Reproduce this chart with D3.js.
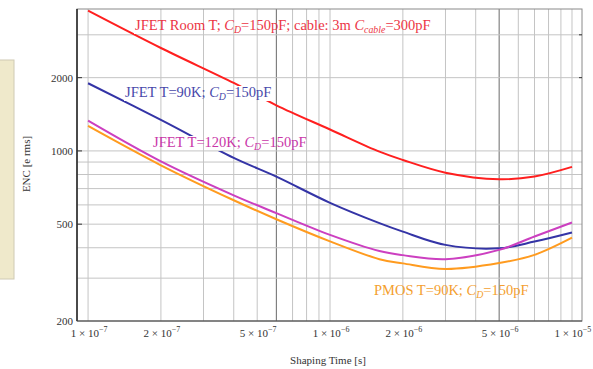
<!DOCTYPE html>
<html>
<head>
<meta charset="utf-8">
<script src="https://cdn.jsdelivr.net/npm/d3@7"></script>
<style>
  body { margin: 0; background: #fff; }
  svg { display: block; }
</style>
</head>
<body>
<div id="chart"></div>
<script>
// values (ENC in e rms vs shaping time in s)
const shapingTimes = [1e-7, 2e-7, 4e-7, 6e-7, 1e-6, 1.6e-6, 2e-6, 3e-6, 5e-6, 7e-6, 1e-5];
const encJfetRoom = [3770, 2648, 1902, 1540, 1225, 993, 918, 814, 765, 785, 860];
const encJfet90 = [1897, 1341, 936, 784, 612, 505, 466, 411, 398, 424, 462];
const encJfet120 = [1332, 906, 657, 555, 452, 388, 373, 359, 392, 445, 508];
const encPmos90 = [1267, 873, 627, 524, 425, 359, 345, 327, 346, 374, 440];

const xTickValues = [1e-7, 2e-7, 5e-7, 1e-6, 2e-6, 5e-6, 1e-5];
const xTickMantissa = ["1", "2", "5", "1", "2", "5", "1"];
const xTickExponent = ["\u22127", "\u22127", "\u22127", "\u22126", "\u22126", "\u22126", "\u22125"];
const yTickValues = [200, 500, 1000, 2000];
const xGridValues = [1e-7, 2e-7, 3e-7, 4e-7, 5e-7, 6e-7, 7e-7, 8e-7, 9e-7,
                     1e-6, 2e-6, 3e-6, 4e-6, 5e-6, 6e-6, 7e-6, 8e-6, 9e-6, 1e-5];
const xDarkGrid = [6e-7, 5e-6];
const yGridValues = [300, 400, 500, 600, 700, 800, 900, 1000, 2000, 3000];

const width = 593, height = 369;
const plotLeft = 77, plotRight = 582, plotTop = 9, plotBottom = 321;

let x = d3.scaleLog().domain([9e-8, 1.1e-5]).range([plotLeft, plotRight]);
let y = d3.scaleLog().domain([200, 3830]).range([plotBottom, plotTop]);

let svg = d3.select("#chart").append("svg")
    .attr("width", width)
    .attr("height", height)
    .style("font-family", "'Liberation Serif', 'DejaVu Serif', serif");

// beige panel on the left edge
svg.append("rect")
    .attr("x", -1).attr("y", 60)
    .attr("width", 15).attr("height", 219)
    .attr("fill", "#efe9cb")
    .attr("stroke", "#cfcab4");

function drawGrid(g) {
    g.selectAll("line.gx")
        .data(xGridValues)
        .join("line")
        .attr("class", "gx")
        .attr("x1", d => x(d)).attr("x2", d => x(d))
        .attr("y1", plotTop).attr("y2", plotBottom)
        .attr("stroke", d => xDarkGrid.includes(d) ? "#6a6a6a" : "#c4c4c4")
        .attr("stroke-width", 1);
    g.selectAll("line.gy")
        .data(yGridValues)
        .join("line")
        .attr("class", "gy")
        .attr("x1", plotLeft).attr("x2", plotRight)
        .attr("y1", d => y(d)).attr("y2", d => y(d))
        .attr("stroke", "#c4c4c4")
        .attr("stroke-width", 1);
}

drawGrid(svg.append("g"));

// curves
let series = [
    { values: encJfetRoom, color: "#ff1f1f" },
    { values: encJfet90, color: "#3434a6" },
    { values: encJfet120, color: "#cc3fc0" },
    { values: encPmos90, color: "#ff9b1f" }
];

let line = d3.line()
    .x(d => x(d[0]))
    .y(d => y(d[1]))
    .curve(d3.curveCatmullRom.alpha(0.5));

svg.append("g")
    .selectAll("path")
    .data(series)
    .join("path")
    .attr("d", s => line(shapingTimes.map((t, i) => [t, s.values[i]])))
    .attr("fill", "none")
    .attr("stroke", s => s.color)
    .attr("stroke-width", 2);

// curve labels, parts: plain / italic / italic subscript
let labels = [
    { x: 135, y: 30, color: "#ec3545", parts: [["JFET Room T; "], ["C", "i"], ["D", "s"], ["=150pF; cable: 3m "], ["C", "i"], ["cable", "s"], ["=300pF"]] },
    { x: 125, y: 97, color: "#4848aa", parts: [["JFET T=90K; "], ["C", "i"], ["D", "s"], ["=150pF"]] },
    { x: 153, y: 147, color: "#c936a8", parts: [["JFET T=120K; "], ["C", "i"], ["D", "s"], ["=150pF"]] },
    { x: 374, y: 295, color: "#f4a030", parts: [["PMOS T=90K; "], ["C", "i"], ["D", "s"], ["=150pF"]] }
];
const labelSize = 14.5;

// layers: white backing, grid seen through it, then the text
let labelBg = svg.append("g");
let gridOver = svg.append("g").attr("clip-path", "url(#labelClip)");
let labelText = svg.append("g");

let boxes = [];
labels.forEach(l => {
    let t = labelText.append("text")
        .attr("x", l.x).attr("y", l.y)
        .attr("font-size", labelSize + "px")
        .attr("fill", l.color);
    let shifted = false;
    l.parts.forEach(p => {
        let ts = t.append("tspan").text(p[0]);
        if (p[1] === "i") ts.attr("font-style", "italic");
        if (p[1] === "s") {
            ts.attr("font-style", "italic").attr("font-size", (labelSize * 0.68) + "px").attr("dy", 3);
            shifted = true;
        } else if (shifted) {
            ts.attr("dy", -3);
            shifted = false;
        }
    });
    let b = t.node().getBBox();
    boxes.push({ x: b.x - 1, y: b.y + 2, w: b.width + 2, h: b.height - 3 });
});

labelBg.selectAll("rect")
    .data(boxes)
    .join("rect")
    .attr("x", d => d.x).attr("y", d => d.y)
    .attr("width", d => d.w).attr("height", d => d.h)
    .attr("fill", "#fff");

svg.append("clipPath").attr("id", "labelClip")
    .selectAll("rect")
    .data(boxes)
    .join("rect")
    .attr("x", d => d.x).attr("y", d => d.y)
    .attr("width", d => d.w).attr("height", d => d.h);
drawGrid(gridOver);

// frame
svg.append("rect")
    .attr("x", plotLeft).attr("y", plotTop)
    .attr("width", plotRight - plotLeft).attr("height", plotBottom - plotTop)
    .attr("fill", "none")
    .attr("stroke", "#8a8a8a");
svg.append("line")
    .attr("x1", plotLeft).attr("x2", plotLeft).attr("y1", plotTop).attr("y2", plotBottom)
    .attr("stroke", "#222").attr("stroke-width", 1.5);
svg.append("line")
    .attr("x1", plotLeft).attr("x2", plotRight).attr("y1", plotBottom).attr("y2", plotBottom)
    .attr("stroke", "#444").attr("stroke-width", 1.2);

// ticks on the axes
svg.append("g").selectAll("line")
    .data(yTickValues.slice(1))
    .join("line")
    .attr("x1", plotLeft).attr("x2", plotLeft + 5)
    .attr("y1", d => y(d)).attr("y2", d => y(d))
    .attr("stroke", "#333");
svg.append("g").selectAll("line")
    .data([2000, 3000])
    .join("line")
    .attr("x1", plotRight - 3).attr("x2", plotRight)
    .attr("y1", d => y(d)).attr("y2", d => y(d))
    .attr("stroke", "#333");

// y tick labels
svg.append("g")
    .attr("font-size", "11px")
    .attr("fill", "#333")
    .attr("text-anchor", "end")
    .selectAll("text")
    .data(yTickValues)
    .join("text")
    .attr("x", plotLeft - 4)
    .attr("y", d => y(d) + 4)
    .text(d => d);

// x tick labels: m × 10^e
let xt = svg.append("g")
    .attr("font-size", "11px")
    .attr("fill", "#333")
    .attr("text-anchor", "middle")
    .selectAll("text")
    .data(xTickValues)
    .join("text")
    .attr("x", d => x(d) + 1)
    .attr("y", 337);
xt.append("tspan").text((d, i) => xTickMantissa[i] + " \u00d7 10");
xt.append("tspan")
    .attr("dy", -5)
    .attr("font-size", "8px")
    .text((d, i) => xTickExponent[i]);

// axis titles
svg.append("text")
    .attr("x", 328).attr("y", 364)
    .attr("text-anchor", "middle")
    .attr("font-size", "11px")
    .attr("fill", "#333")
    .text("Shaping Time [s]");
svg.append("text")
    .attr("transform", "translate(30,164) rotate(-90)")
    .attr("text-anchor", "middle")
    .attr("font-size", "11px")
    .attr("fill", "#333")
    .text("ENC [e rms]");
</script>
</body>
</html>
